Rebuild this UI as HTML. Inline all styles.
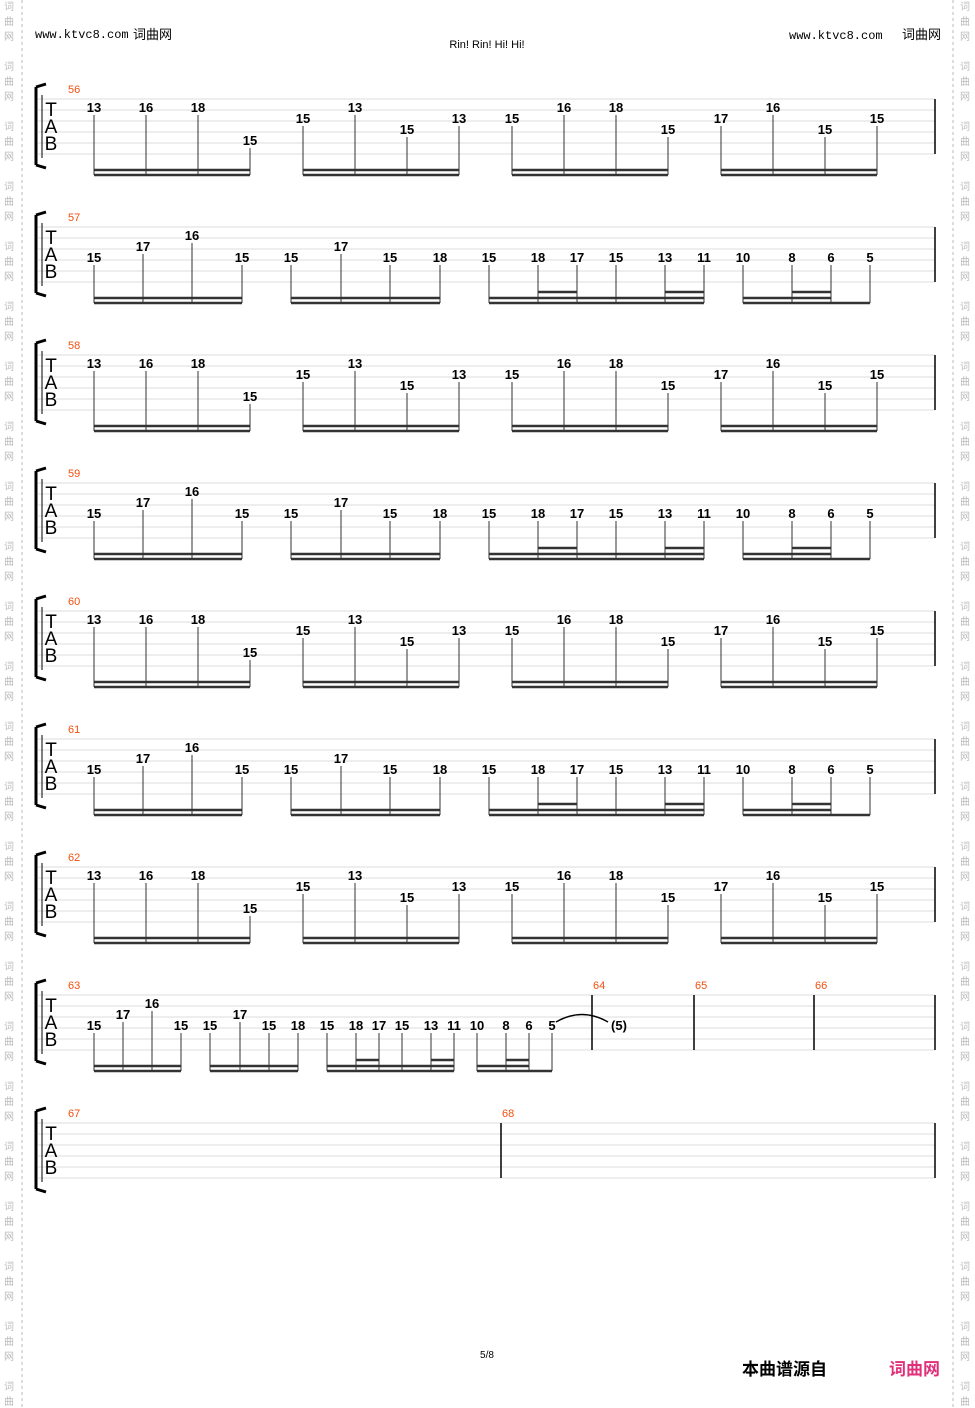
<!DOCTYPE html>
<html><head><meta charset="utf-8"><style>
body{margin:0;background:#fff;width:975px;height:1408px;overflow:hidden}
svg{display:block}
</style></head><body>
<svg id="s" width="975" height="1408" xmlns="http://www.w3.org/2000/svg" font-family="Liberation Sans, DejaVu Sans, sans-serif"></svg>
<script>
var o='';
function t(x,y,s,sz,fill,anchor,weight,fam){o+='<text x="'+x+'" y="'+y+'" font-size="'+sz+'" fill="'+(fill||'#000')+'" text-anchor="'+(anchor||'middle')+'"'+(weight?' font-weight="'+weight+'"':'')+(fam?' font-family="'+fam+'"':'')+'>'+s+'</text>';}
function l(x1,y1,x2,y2,c,w,d){o+='<line x1="'+x1+'" y1="'+y1+'" x2="'+x2+'" y2="'+y2+'" stroke="'+c+'" stroke-width="'+w+'"'+(d?' stroke-dasharray="'+d+'"':'')+'/>';}
l(22,0,22,1408,'#bbb',1,'3,3');l(953,0,953,1408,'#bbb',1,'3,3');
var cj='Noto Sans CJK SC, sans-serif';
for(var g=5;g<1408;g+=60){['词','曲','网'].forEach(function(c,i){t(9,g+i*15+5,c,10,'#bbb','middle',null,cj);t(965,g+i*15+5,c,10,'#bbb','middle',null,cj);});}
t(35,38,'www.ktvc8.com','12','#000','start',null,'Liberation Mono, monospace');t(133,39,'词曲网',13,'#000','start',null,cj);
t(789,39,'www.ktvc8.com','12','#000','start',null,'Liberation Mono, monospace');t(902,39,'词曲网',13,'#000','start',null,cj);
t(487,48,'Rin! Rin! Hi! Hi!',11,'#000');
t(487,1358,'5/8',10,'#000');
t(742,1375,'本曲谱源自',17,'#000','start','bold',cj);
t(889,1375,'词曲网',17,'#e0307a','start','bold',cj);

var A=[[[94,13,2],[146,16,2],[198,18,2],[250,15,5]],[[303,15,3],[355,13,2],[407,15,4],[459,13,3]],[[512,15,3],[564,16,2],[616,18,2],[668,15,4]],[[721,17,3],[773,16,2],[825,15,4],[877,15,3]]];
var B=[[[94,15,4],[143,17,3],[192,16,2],[242,15,4]],[[291,15,4],[341,17,3],[390,15,4],[440,18,4]],[[489,15,4],[538,18,4],[577,17,4],[616,15,4],[665,13,4],[704,11,4]],[[743,10,4],[792,8,4],[831,6,4],[870,5,4]]];
var C=[[[94,15,4],[123,17,3],[152,16,2],[181,15,4]],[[210,15,4],[240,17,3],[269,15,4],[298,18,4]],[[327,15,4],[356,18,4],[379,17,4],[402,15,4],[431,13,4],[454,11,4]],[[477,10,4],[506,8,4],[529,6,4],[552,5,4]]];
function staff(y0,num){
  for(var i=0;i<6;i++)l(38,y0+i*11,935,y0+i*11,'#ddd',1);
  l(935,y0,935,y0+55,'#000',1.5);
  l(42,y0-4,42,y0+59,'#000',1);
  o+='<path d="M36 '+(y0-12)+' L36 '+(y0+66)+' M36 '+(y0-12)+' L46 '+(y0-15)+' M36 '+(y0+66)+' L46 '+(y0+69)+'" stroke="#000" stroke-width="3" fill="none"/>';
  t(51,y0+17,'T',19,'#000');t(51,y0+34,'A',19,'#000');t(51,y0+51,'B',19,'#000');
  t(68,y0-6,num,11,'#f05010','start');
}
function notes(y0,groups,type){
  var by=y0+72;
  groups.forEach(function(g,gi){
    g.forEach(function(n){var ly=y0+(n[2]-1)*11;t(n[0],ly+2,n[1],13,'#000','middle','bold');l(n[0],ly+5,n[0],by+4,'#333',1);});
    var x1=g[0][0],x2=g[g.length-1][0];
    if(type=='A'){l(x1,by-1,x2,by-1,'#333',2.5);l(x1,by+4,x2,by+4,'#333',2.5);}
    else{
      if(g.length==6){l(x1,by-1,x2,by-1,'#333',2.5);l(x1,by+4,x2,by+4,'#333',2.5);l(g[1][0],by-7,g[2][0],by-7,'#333',2.5);l(g[4][0],by-7,g[5][0],by-7,'#333',2.5);}
      else if(gi==3){l(x1,by-1,g[2][0],by-1,'#333',2.5);l(x1,by+4,x2,by+4,'#333',2.5);l(g[1][0],by-7,g[2][0],by-7,'#333',2.5);}
      else{l(x1,by-1,x2,by-1,'#333',2.5);l(x1,by+4,x2,by+4,'#333',2.5);}
    }
  });
}
for(var r=0;r<7;r++){var y0=99+r*128;staff(y0,56+r);notes(y0,r%2==0?A:B,r%2==0?'A':'B');}
var y7=99+7*128;staff(y7,63);notes(y7,C,'B');
[[592,64],[694,65],[814,66]].forEach(function(b){l(b[0],y7,b[0],y7+55,'#000',1.5);t(b[0]+1,y7-6,b[1],11,'#f05010','start');});
t(619,y7+35,'(5)',13,'#000','middle','bold');
o+='<path d="M556 '+(y7+27)+' Q582 '+(y7+12)+' 608 '+(y7+27)+'" stroke="#000" stroke-width="1.5" fill="none"/>';
var y8=99+8*128;staff(y8,67);l(501,y8,501,y8+55,'#000',1.5);t(502,y8-6,'68',11,'#f05010','start');
document.getElementById('s').innerHTML=o;
</script>
</body></html>
